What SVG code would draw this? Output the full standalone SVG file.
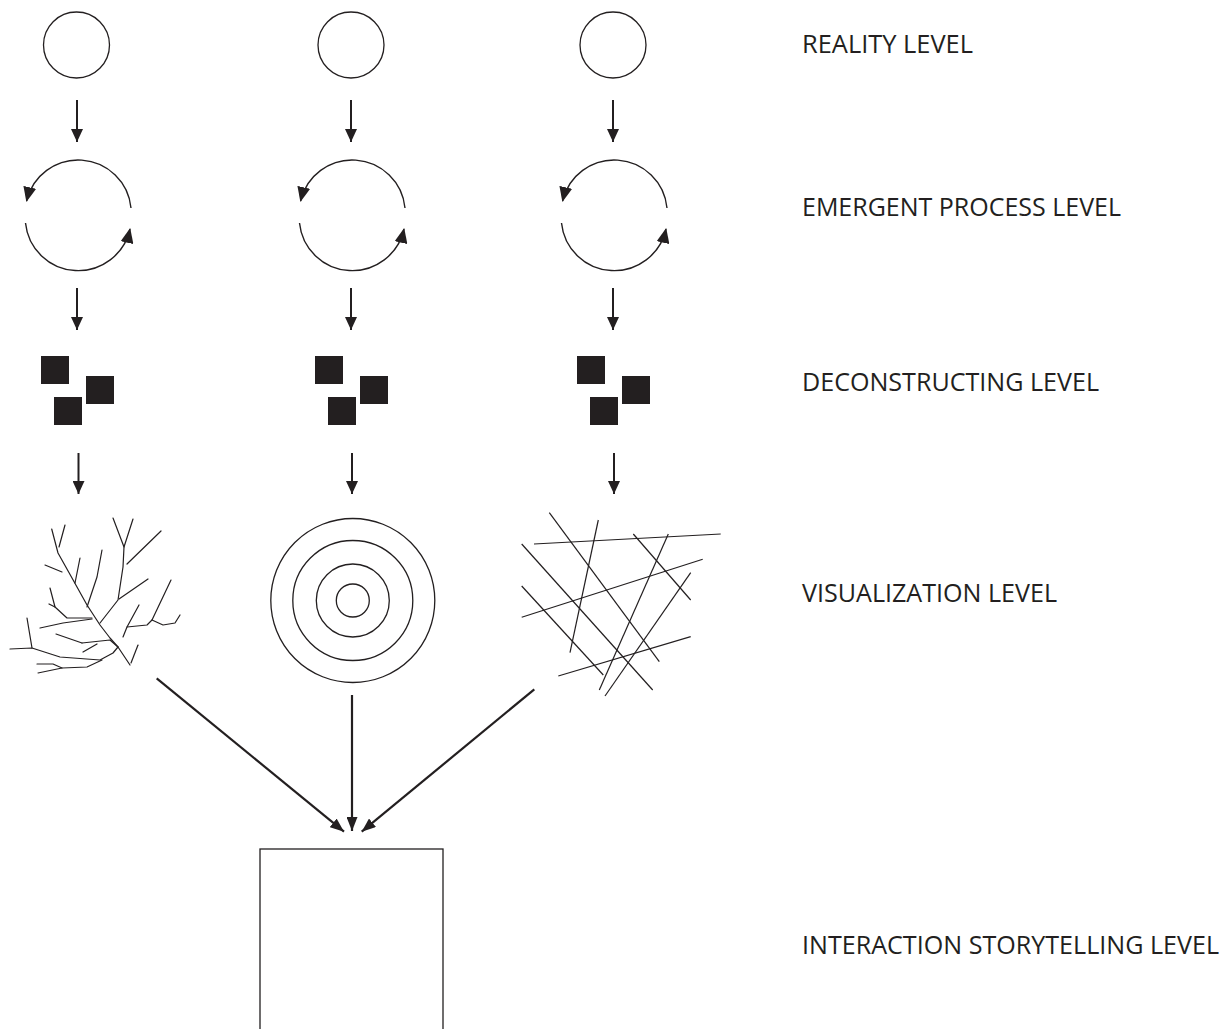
<svg xmlns="http://www.w3.org/2000/svg" xmlns:xlink="http://www.w3.org/1999/xlink" width="1231" height="1029" viewBox="0 0 1231 1029">
<style>
.thin{fill:none;stroke:#231f20;stroke-width:1.3}
.arr{fill:none;stroke:#231f20;stroke-width:2;marker-end:url(#ah)}
.big{fill:none;stroke:#231f20;stroke-width:2.2;marker-end:url(#ahb)}
.cyc{fill:none;stroke:#231f20;stroke-width:1.4;marker-end:url(#ahc)}
.sq{fill:#231f20}
.tree{fill:none;stroke:#231f20;stroke-width:1.2;stroke-linecap:round;stroke-linejoin:round}
.lbl{font-family:"Open Sans","Liberation Sans",sans-serif;font-size:25px;fill:#231f20}
</style>
<defs>
<marker id="ah" markerUnits="userSpaceOnUse" markerWidth="13" markerHeight="12" refX="13" refY="6" orient="auto"><path d="M0,0 L13,6 L0,12 z" fill="#231f20"/></marker>
<marker id="ahb" markerUnits="userSpaceOnUse" markerWidth="14" markerHeight="11" refX="14" refY="5.5" orient="auto"><path d="M0,0 L14,5.5 L0,11 z" fill="#231f20"/></marker>
<marker id="ahc" markerUnits="userSpaceOnUse" markerWidth="15" markerHeight="13" refX="14" refY="6.5" orient="auto"><path d="M0,0 L15,6.5 L0,13 z" fill="#231f20"/></marker>
<g id="cycle">
<path class="cyc" d="M131,208 A53,53 0 0 0 26.6,201"/>
<path class="cyc" d="M25.5,223 A53,53 0 0 0 130,229"/>
</g>
<g id="squares">
<rect class="sq" x="41" y="356" width="28" height="28"/>
<rect class="sq" x="86" y="376" width="28" height="28"/>
<rect class="sq" x="54" y="397" width="28" height="28"/>
</g>
</defs>
<rect width="1231" height="1029" fill="#fff"/>

<g id="reality1"><circle class="thin" cx="76.5" cy="45" r="33"/></g>
<g id="reality2"><circle class="thin" cx="351" cy="45" r="33"/></g>
<g id="reality3"><circle class="thin" cx="613" cy="45" r="33"/></g>

<g id="process1"><use xlink:href="#cycle"/></g>
<g id="process2"><use xlink:href="#cycle" transform="translate(274,0)"/></g>
<g id="process3"><use xlink:href="#cycle" transform="translate(536,0)"/></g>

<g id="deconstruct1"><use xlink:href="#squares"/></g>
<g id="deconstruct2"><use xlink:href="#squares" transform="translate(274,0)"/></g>
<g id="deconstruct3"><use xlink:href="#squares" transform="translate(536,0)"/></g>

<g id="viz-tree" class="tree">
<polyline points="51.7,529 58,553 72,578 87,605 100,625 110,638 118,647 130,665"/>
<polyline points="65,525 59,547"/>
<polyline points="45,565 62,572"/>
<polyline points="80,558 75,583"/>
<polyline points="102,550 97,577 87,607"/>
<polyline points="113,518 124,547 123,567 118,600 100,623"/>
<polyline points="133,519 124,547"/>
<polyline points="161,531 127,564"/>
<polyline points="148,579 119,599"/>
<polyline points="50,588 55,607 67,618 92,618"/>
<polyline points="49,604 55,607"/>
<polyline points="40,628 63,623 92,619"/>
<polyline points="56,634 82,643"/>
<polyline points="82,643 110,640 118,647"/>
<polyline points="83,652 97,644"/>
<polyline points="27,618 32,648"/>
<polyline points="10,649 32,648 60,657 100,660 113,653 118,647"/>
<polyline points="37,664 53,664 62,668"/>
<polyline points="38,673 62,668 87,667 102,660"/>
<polyline points="123,637 127,627 139,605"/>
<polyline points="127,627 147,625 152,620"/>
<polyline points="171,580 152,620 163,625 175,623 180,615"/>
<polyline points="138,645 131,663"/>
</g>

<g id="viz-rings" class="thin">
<circle cx="352.8" cy="600.5" r="82"/>
<circle cx="352.8" cy="600.5" r="60"/>
<circle cx="352.8" cy="600.5" r="36.5"/>
<circle cx="352.8" cy="600.5" r="16.5"/>
</g>

<g id="viz-lines" class="thin" style="stroke-width:1.2">
<line x1="549.3" y1="512.7" x2="659.3" y2="661.7"/>
<line x1="598.3" y1="520" x2="570" y2="652.7"/>
<line x1="534" y1="544" x2="720.7" y2="534"/>
<line x1="633.3" y1="534" x2="690.7" y2="600"/>
<line x1="668.3" y1="534" x2="599.3" y2="690"/>
<line x1="521.7" y1="544" x2="652.7" y2="690"/>
<line x1="702.7" y1="559.3" x2="521.7" y2="617.3"/>
<line x1="690.7" y1="572.7" x2="605" y2="696"/>
<line x1="521.7" y1="586" x2="603.3" y2="675"/>
<line x1="690.7" y1="636.7" x2="558.3" y2="676"/>
</g>

<g id="storytelling"><rect class="thin" x="260" y="849" width="183" height="200"/></g>

<g id="connectors">
<line class="arr" x1="77" y1="100" x2="77" y2="142"/>
<line class="arr" x1="351" y1="100" x2="351" y2="142"/>
<line class="arr" x1="613" y1="100" x2="613" y2="142"/>
<line class="arr" x1="77" y1="288" x2="77" y2="330"/>
<line class="arr" x1="351" y1="288" x2="351" y2="330"/>
<line class="arr" x1="613" y1="288" x2="613" y2="330"/>
<line class="arr" x1="78.5" y1="453" x2="78.5" y2="494"/>
<line class="arr" x1="352" y1="453" x2="352" y2="494"/>
<line class="arr" x1="614" y1="453" x2="614" y2="494"/>
<line class="big" x1="156.7" y1="678.3" x2="344" y2="831.7"/>
<line class="big" x1="352" y1="695" x2="352" y2="831"/>
<line class="big" x1="534.3" y1="689.3" x2="361.7" y2="831.7"/>
</g>

<g id="labels">
<text class="lbl" x="802" y="53" textLength="171" lengthAdjust="spacingAndGlyphs">REALITY LEVEL</text>
<text class="lbl" x="802" y="216" textLength="319" lengthAdjust="spacingAndGlyphs">EMERGENT PROCESS LEVEL</text>
<text class="lbl" x="802" y="391" textLength="297" lengthAdjust="spacingAndGlyphs">DECONSTRUCTING LEVEL</text>
<text class="lbl" x="802" y="602" textLength="255" lengthAdjust="spacingAndGlyphs">VISUALIZATION LEVEL</text>
<text class="lbl" x="802" y="954" textLength="417" lengthAdjust="spacingAndGlyphs">INTERACTION STORYTELLING LEVEL</text>
</g>
</svg>
